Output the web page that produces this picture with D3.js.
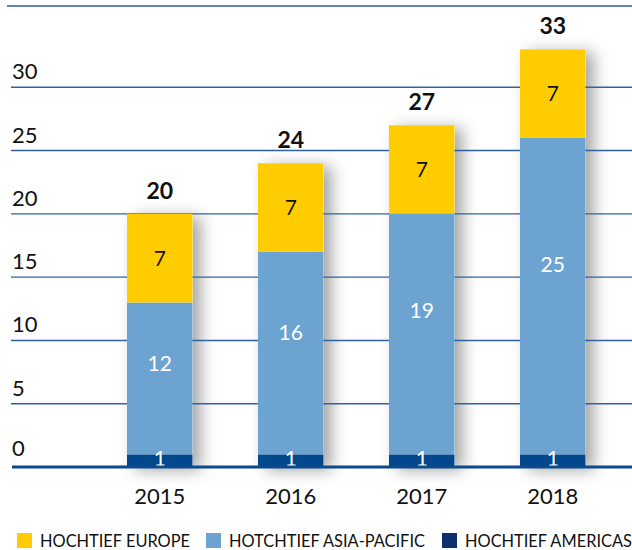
<!DOCTYPE html>
<html>
<head>
<meta charset="utf-8">
<script src="https://cdn.jsdelivr.net/npm/d3@7"></script>
<style>
  html, body { margin: 0; padding: 0; background: #fff; }
  svg { display: block; font-family: Lato, "Open Sans", sans-serif; }
</style>
</head>
<body>
<svg id="chart" width="632" height="550"></svg>
<script>
// Orders by region, per year
const years = ["2015", "2016", "2017", "2018"];
const americas = [1, 1, 1, 1];
const asiaPacific = [12, 16, 19, 25];
const europe = [7, 7, 7, 7];
const totals = [20, 24, 27, 33];
const yTicks = [0, 5, 10, 15, 20, 25, 30];

const seriesKeys = ["americas", "asiaPacific", "europe"];
const seriesColors = { americas: "#03478c", asiaPacific: "#6ca3d0", europe: "#ffcc00" };
const textColors = { americas: "#ffffff", asiaPacific: "#ffffff", europe: "#111111" };

const legendItems = [
  { label: "HOCHTIEF EUROPE", color: "#ffcc00" },
  { label: "HOTCHTIEF ASIA-PACIFIC", color: "#6ca3d0" },
  { label: "HOCHTIEF AMERICAS", color: "#0d2f6e" }
];

const rows = years.map((y, i) => ({
  year: y,
  americas: americas[i],
  asiaPacific: asiaPacific[i],
  europe: europe[i],
  total: totals[i]
}));

const svg = d3.select("#chart");

const x = d3.scaleBand().domain(years).range([61.5, 651]).paddingInner(0.5).paddingOuter(0.5);
const y = d3.scaleLinear().domain([0, 35]).range([467, 24]);

const stack = d3.stack().keys(seriesKeys)(rows);

// soft shadow to the right of each column
const defs = svg.append("defs");
const f = defs.append("filter").attr("id", "shade")
  .attr("x", "-30%").attr("y", "-20%").attr("width", "180%").attr("height", "140%");
f.append("feDropShadow").attr("dx", 8).attr("dy", 3)
  .attr("stdDeviation", 8).attr("flood-color", "#000").attr("flood-opacity", 0.36);

svg.append("g").selectAll("rect").data(rows).join("rect")
  .attr("x", d => x(d.year))
  .attr("y", d => y(d.total))
  .attr("width", x.bandwidth())
  .attr("height", d => y(0) - y(d.total))
  .attr("fill", "#fff")
  .attr("filter", "url(#shade)");

// top rule
svg.append("line")
  .attr("x1", 7).attr("x2", 632).attr("y1", 6).attr("y2", 6)
  .attr("stroke", "#2a5f9e").attr("stroke-width", 1.6);

// horizontal grid + y labels
const yAxis = svg.append("g");
yAxis.selectAll("line.grid").data(yTicks.filter(t => t > 0)).join("line")
  .attr("class", "grid")
  .attr("x1", 11).attr("x2", 632)
  .attr("y1", d => y(d)).attr("y2", d => y(d))
  .attr("stroke", "#2f62a0").attr("stroke-width", 1.4);
yAxis.selectAll("text").data(yTicks).join("text")
  .attr("x", 12)
  .attr("y", d => y(d) - (d === 0 ? 11 : 8))
  .attr("font-size", 22)
  .attr("fill", "#111")
  .text(d => d);

// stacked segments
const layers = svg.append("g").selectAll("g").data(stack).join("g")
  .attr("fill", d => seriesColors[d.key]);
layers.selectAll("rect").data(d => d.map(p => ({ p, key: d.key }))).join("rect")
  .attr("x", d => x(d.p.data.year))
  .attr("y", d => y(d.p[1]))
  .attr("width", x.bandwidth())
  .attr("height", d => y(d.p[0]) - y(d.p[1]));

// segment value labels
function labelY(d) {
  const top = y(d.p[1]), bottom = y(d.p[0]);
  if (d.key === "americas") return bottom - 1;
  if (d.key === "asiaPacific") return top + 0.4 * (bottom - top) + 7.5;
  return (top + bottom) / 2 + 7.5;
}
svg.append("g").selectAll("g").data(stack).join("g")
  .selectAll("text").data(d => d.map(p => ({ p, key: d.key }))).join("text")
  .attr("x", d => x(d.p.data.year) + x.bandwidth() / 2)
  .attr("y", labelY)
  .attr("text-anchor", "middle")
  .attr("font-size", 21)
  .attr("fill", d => textColors[d.key])
  .text(d => d.p.data[d.key]);

// baseline
svg.append("line")
  .attr("x1", 12).attr("x2", 632).attr("y1", y(0)).attr("y2", y(0))
  .attr("stroke", "#0b4a8c").attr("stroke-width", 3.2);

// totals
svg.append("g").selectAll("text").data(rows).join("text")
  .attr("x", d => x(d.year) + x.bandwidth() / 2)
  .attr("y", d => y(d.total) - 15)
  .attr("text-anchor", "middle")
  .attr("font-size", 23)
  .attr("font-weight", 700)
  .attr("fill", "#111")
  .text(d => d.total);

// year labels
const xAxis = d3.axisBottom(x).tickSize(0).tickPadding(0);
const xg = svg.append("g").attr("transform", "translate(0,504)").call(xAxis);
xg.select(".domain").remove();
xg.selectAll("text")
  .attr("dy", 0).attr("y", 0)
  .attr("font-size", 22)
  .attr("font-family", "Lato, 'Open Sans', sans-serif")
  .attr("fill", "#111");

// legend
const legendX = [17, 206, 442];
const lg = svg.append("g").selectAll("g").data(legendItems).join("g")
  .attr("transform", (d, i) => `translate(${legendX[i]},533)`);
lg.append("rect").attr("width", 15).attr("height", 15).attr("fill", d => d.color);
lg.append("text")
  .attr("x", 23).attr("y", 14)
  .attr("font-size", 16.4)
  .attr("fill", "#111")
  .text(d => d.label);
</script>
</body>
</html>
